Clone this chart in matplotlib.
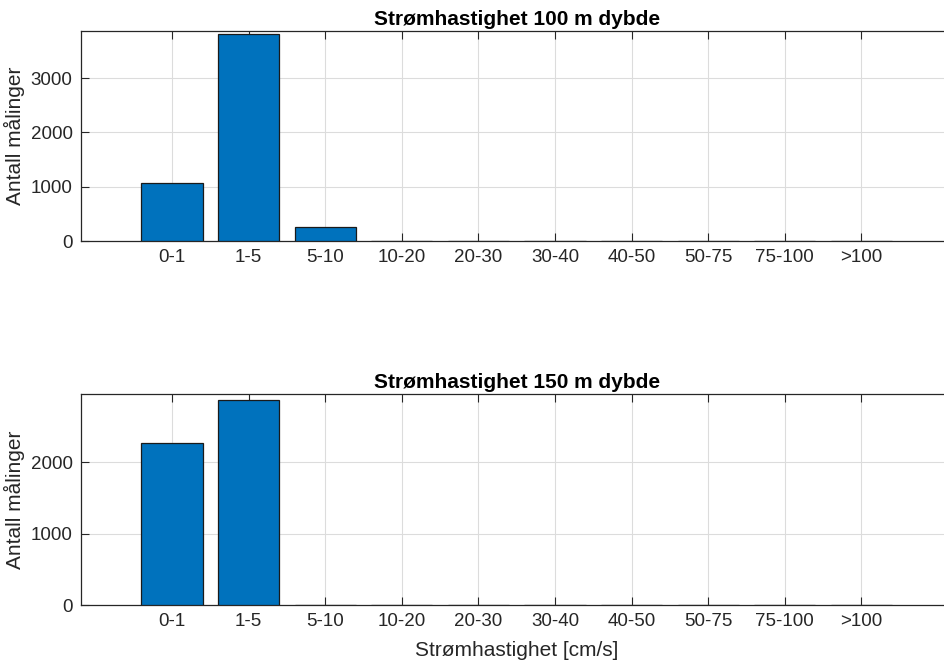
import matplotlib
matplotlib.use('Agg')
import matplotlib.pyplot as plt
import numpy as np

# Data
categories = ['0-1', '1-5', '5-10', '10-20', '20-30', '30-40', '40-50', '50-75', '75-100', '>100']
counts_100m = [1068, 3812, 258, 0, 0, 0, 0, 0, 0, 0]
counts_150m = [2269, 2875, 0, 0, 0, 0, 0, 0, 0, 0]
titles = ['Strømhastighet 100 m dybde', 'Strømhastighet 150 m dybde']
y_limits = [3870, 2955]
y_ticks = [[0, 1000, 2000, 3000], [0, 1000, 2000]]

BAR_COLOR = '#0072BD'
AXIS_COLOR = '#262626'

plt.rcParams['font.family'] = ['Liberation Sans', 'DejaVu Sans']

fig = plt.figure(figsize=(9.44, 6.68), dpi=100)
# axes run off the right edge of the picture, like the cropped original
ax_top = fig.add_axes([0.0858, 0.6392, 0.9142, 0.3144])
ax_bot = fig.add_axes([0.0858, 0.0943, 0.9142, 0.3159])

x = np.arange(len(categories))
for i, (ax, counts) in enumerate(zip([ax_top, ax_bot], [counts_100m, counts_150m])):
    ax.bar(x, counts, width=0.8, color=BAR_COLOR, edgecolor='#1a1a1a', linewidth=0.9, zorder=3)
    ax.set_xlim(-1.19, 10.08)
    ax.set_ylim(0, y_limits[i])
    ax.set_xticks(x)
    ax.set_xticklabels(categories)
    ax.set_yticks(y_ticks[i])
    ax.grid(True, color='#dcdcdc', linewidth=0.8, zorder=0)
    ax.tick_params(axis='both', direction='in', labelsize=13.5, colors=AXIS_COLOR,
                   length=6, width=0.8, top=True, right=False, pad=6)
    for s in ax.spines.values():
        s.set_color(AXIS_COLOR)
        s.set_linewidth(0.9)
    ax.spines['right'].set_visible(False)
    ax.set_title(titles[i], fontsize=15, fontweight='bold', color='black', pad=4,
                 x=0.5 * 11.38 / 11.27)
    ax.set_ylabel('Antall målinger', fontsize=15, color=AXIS_COLOR, labelpad=4)

ax_bot.set_xlabel('Strømhastighet [cm/s]', fontsize=15, color=AXIS_COLOR, labelpad=8,
                  x=0.5 * 11.38 / 11.27)

fig.savefig('out.png', dpi=100)
